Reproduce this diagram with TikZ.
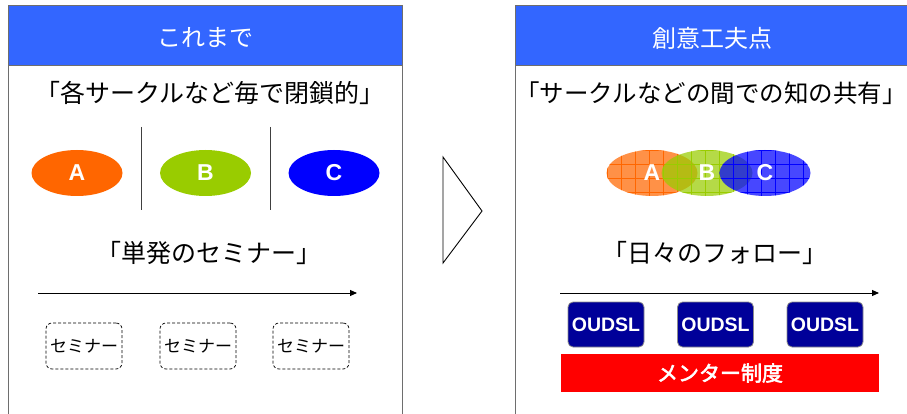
\documentclass[tikz,border=0pt]{standalone}
\usepackage{fontspec}
\newfontfamily\jp[AutoFakeBold=2.5]{Noto Sans CJK JP}
\newfontfamily\arl{Liberation Sans}
\usetikzlibrary{shapes.geometric,arrows.meta}
\definecolor{headblue}{RGB}{51,102,255}
\definecolor{orA}{RGB}{255,102,0}
\definecolor{grB}{RGB}{153,204,0}
\definecolor{blC}{RGB}{0,0,255}
\definecolor{navy}{RGB}{0,0,153}
\definecolor{panelgray}{RGB}{110,110,110}
\tikzset{
  panelline/.style={draw=panelgray, line width=1pt},
  headtext/.style={text=white, font=\jp\fontsize{24}{24}\selectfont, inner sep=0pt},
  subtitle/.style={text=black, font=\jp\fontsize{25}{25}\selectfont, inner sep=0pt},
  ell/.style={ellipse, minimum width=91pt, minimum height=46pt, inner sep=0pt,
    text=white, font=\arl\bfseries\fontsize{23}{23}\selectfont},
  ellname/.style={ellipse, minimum width=91pt, minimum height=46pt, inner sep=0pt,
    text=white, font=\arl\bfseries\fontsize{23}{23}\selectfont},
  divider/.style={draw=black!75, line width=0.9pt},
  timeline/.style={draw=black, line width=0.9pt, -{Triangle[length=7pt,width=6pt]}},
  seminar/.style={draw=black, dashed, dash pattern=on 3pt off 2pt, line width=0.7pt,
    rounded corners=6pt, minimum width=76pt, minimum height=46pt, inner sep=0pt,
    font=\jp\fontsize{17}{17}\selectfont},
  oudsl/.style={draw=black!45, fill=navy, line width=0.8pt, rounded corners=5pt,
    minimum width=76pt, minimum height=45pt, inner sep=0pt, text=white,
    font=\arl\bfseries\fontsize{19.5}{19.5}\selectfont},
  mentor/.style={fill=red, minimum width=318pt, minimum height=38pt, inner sep=0pt,
    text=white, font=\jp\bfseries\fontsize{21}{21}\selectfont},
  gridline/.style={line width=0.8pt}
}
\begin{document}
\begin{tikzpicture}[x=1pt,y=-1pt]
\useasboundingbox (0,0) rectangle (907,414);
% ---------- left panel ----------
\fill[headblue] (8,6) rectangle (402,66);
\draw[panelline] (8,420) -- (8,6) -- (402,6) -- (402,420);
\draw[panelline] (8,66) -- (402,66);
\node[headtext] (h1) at (205,38) {これまで};
\node[subtitle] (s1) at (210,93) {「各サークルなど毎で閉鎖的」};
\coordinate (d1t) at (141,127); \coordinate (d1b) at (141,210);
\coordinate (d2t) at (270,127); \coordinate (d2b) at (270,210);
\draw[divider] (d1t) -- (d1b);
\draw[divider] (d2t) -- (d2b);
\node[ell, fill=orA] (la) at (77,173) {A};
\node[ell, fill=grB] (lb) at (205.5,173) {B};
\node[ell, fill=blC] (lc) at (334,173) {C};
\node[subtitle] (s2) at (209,253) {「単発のセミナー」};
\coordinate (t1s) at (38,293); \coordinate (t1e) at (357,293);
\draw[timeline] (t1s) -- (t1e);
\node[seminar] (m1) at (84,346) {セミナー};
\node[seminar] (m2) at (198,346) {セミナー};
\node[seminar] (m3) at (311,346) {セミナー};
% ---------- arrow triangle ----------
\coordinate (tr1) at (443,157); \coordinate (tr2) at (482,211); \coordinate (tr3) at (443,263);
\draw[line width=0.9pt, line join=miter] (tr1) -- (tr2) -- (tr3) -- cycle;
% ---------- right panel ----------
\fill[headblue] (515,6) rectangle (912,66);
\draw[panelline] (515,420) -- (515,6) -- (912,6);
\draw[panelline] (515,66) -- (912,66);
\node[headtext] (h2) at (712,38) {創意工夫点};
\node[subtitle, font=\jp\fontsize{24.5}{24.5}\selectfont] (s3) at (711,93) {「サークルなどの間での知の共有」};
% overlapping ellipses with grid
\begin{scope}
  \clip (652,173) ellipse [x radius=45.5, y radius=23];
  \fill[orA, opacity=0.72] (600,140) rectangle (700,200);
  \foreach \k in {0,...,7} \draw[gridline, orA] (607+14.1*\k,140) -- (607+14.1*\k,200);
  \foreach \k in {0,...,4} \draw[gridline, orA] (600,136+14*\k) -- (700,136+14*\k);
\end{scope}
\begin{scope}
  \clip (707,173) ellipse [x radius=45.5, y radius=23];
  \fill[grB, opacity=0.72] (655,140) rectangle (760,200);
  \foreach \k in {0,...,8} \draw[gridline, grB] (649+14.1*\k,140) -- (649+14.1*\k,200);
  \foreach \k in {0,...,4} \draw[gridline, grB] (655,136+14*\k) -- (760,136+14*\k);
\end{scope}
\begin{scope}
  \clip (765,173) ellipse [x radius=45.5, y radius=23];
  \fill[blC, opacity=0.72] (715,140) rectangle (815,200);
  \foreach \k in {0,...,8} \draw[gridline, blC] (705+14.1*\k,140) -- (705+14.1*\k,200);
  \foreach \k in {0,...,4} \draw[gridline, blC] (715,136+14*\k) -- (815,136+14*\k);
\end{scope}
\node[ellname] (ra) at (652,173) {A};
\node[ellname] (rb) at (707,173) {B};
\node[ellname] (rc) at (765,173) {C};
\node[subtitle] (s4) at (715,253) {「日々のフォロー」};
\coordinate (t2s) at (560,293); \coordinate (t2e) at (879,293);
\draw[timeline] (t2s) -- (t2e);
\node[oudsl] (o1) at (606,324.5) {OUDSL};
\node[oudsl] (o2) at (715.5,324.5) {OUDSL};
\node[oudsl] (o3) at (825,324.5) {OUDSL};
\node[mentor] (mt) at (720,373) {メンター制度};
\end{tikzpicture}
\end{document}
